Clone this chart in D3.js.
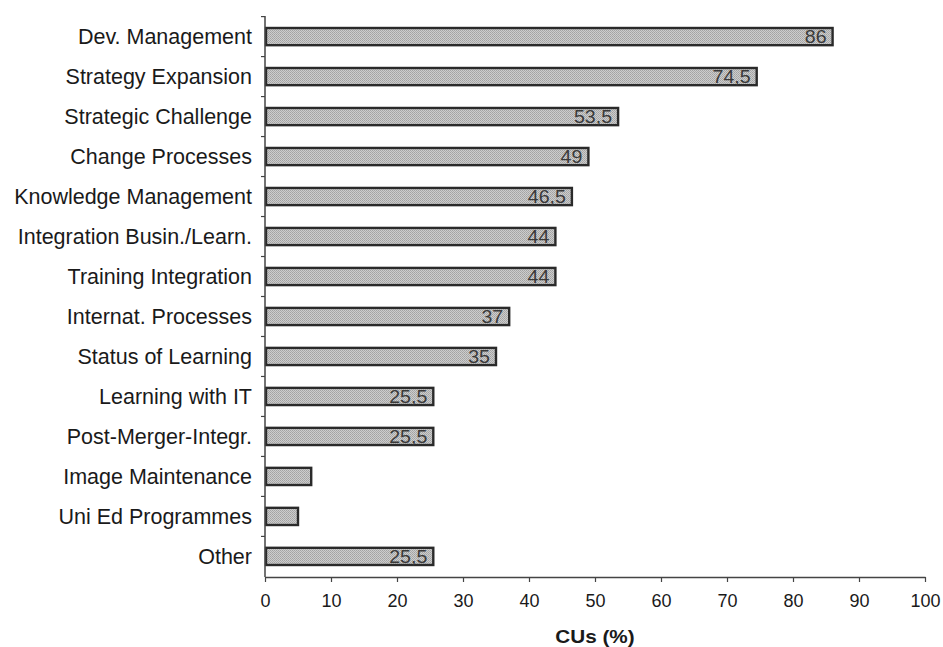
<!DOCTYPE html>
<html>
<head>
<meta charset="utf-8">
<script src="https://cdn.jsdelivr.net/npm/d3@7"></script>
<style>
  body { margin: 0; background: #fff; }
  svg { display: block; font-family: "Liberation Sans", Arial, sans-serif; }
</style>
</head>
<body>
<svg id="chart" width="943" height="647"></svg>
<script>
// Share of corporate universities (%) by topic
const categories = [
  "Dev. Management", "Strategy Expansion", "Strategic Challenge", "Change Processes",
  "Knowledge Management", "Integration Busin./Learn.", "Training Integration",
  "Internat. Processes", "Status of Learning", "Learning with IT",
  "Post-Merger-Integr.", "Image Maintenance", "Uni Ed Programmes", "Other"
];
const values = [86, 74.5, 53.5, 49, 46.5, 44, 44, 37, 35, 25.5, 25.5, 7, 5, 25.5];
const valueLabels = ["86", "74,5", "53,5", "49", "46,5", "44", "44", "37", "35", "25,5", "25,5", "", "", "25,5"];
const xTicks = [0, 10, 20, 30, 40, 50, 60, 70, 80, 90, 100];
const xTitle = "CUs (%)";

const svg = d3.select("#chart");
const margin = { left: 265, right: 18, top: 16, bottom: 70 };
const width = 943, height = 647;

const x = d3.scaleLinear().domain([0, 100]).range([margin.left, width - margin.right]);
const y = d3.scaleBand().domain(categories).range([margin.top, height - margin.bottom]).paddingInner(0.57).paddingOuter(0.3);

// stippled grey fill for bars
const defs = svg.append("defs");
const pat = defs.append("pattern").attr("id", "stipple").attr("width", 2).attr("height", 2)
  .attr("patternUnits", "userSpaceOnUse");
pat.append("rect").attr("width", 2).attr("height", 2).attr("fill", "#cdcdcd");
pat.append("rect").attr("width", 1).attr("height", 1).attr("fill", "#a2a2a2");
pat.append("rect").attr("x", 1).attr("y", 1).attr("width", 1).attr("height", 1).attr("fill", "#ababab");

// bars
svg.append("g").selectAll("rect").data(values).join("rect")
  .attr("x", x(0) + 1)
  .attr("y", (d, i) => y(categories[i]))
  .attr("width", d => x(d) - x(0) - 1)
  .attr("height", y.bandwidth())
  .attr("fill", "url(#stipple)")
  .attr("stroke", "#2a2a2a")
  .attr("stroke-width", 2.4);

// value labels at bar ends, slightly widened
svg.append("g").selectAll("text").data(values).join("text")
  .attr("transform", (d, i) => `translate(${x(d) - 6},${y(categories[i]) + y.bandwidth() / 2}) scale(1.12,1)`)
  .attr("dy", "0.37em")
  .attr("text-anchor", "end")
  .attr("font-size", 17.5)
  .attr("fill", "#3a3a3a")
  .text((d, i) => valueLabels[i]);

// y axis with ticks between categories
const yAxisG = svg.append("g");
yAxisG.append("line")
  .attr("x1", x(0)).attr("x2", x(0))
  .attr("y1", margin.top).attr("y2", height - margin.bottom)
  .attr("stroke", "#444").attr("stroke-width", 1.5);
const step = y.step();
const bounds = d3.range(categories.length).map(i => y(categories[i]) - (step - y.bandwidth()) / 2);
yAxisG.selectAll("line.tk").data(bounds).join("line").attr("class", "tk")
  .attr("x1", x(0) - 4).attr("x2", x(0))
  .attr("y1", d => d).attr("y2", d => d)
  .attr("stroke", "#444").attr("stroke-width", 1.2);
yAxisG.selectAll("text").data(categories).join("text")
  .attr("x", x(0) - 13)
  .attr("y", d => y(d) + y.bandwidth() / 2)
  .attr("dy", "0.36em")
  .attr("text-anchor", "end")
  .attr("font-size", 21.5)
  .attr("fill", "#1a1a1a")
  .text(d => d);

// x axis
const xAxis = d3.axisBottom(x).tickValues(xTicks).tickSize(5).tickSizeOuter(0).tickFormat(d3.format("d"));
const xg = svg.append("g").attr("transform", `translate(0,${height - margin.bottom})`).call(xAxis);
xg.select(".domain").attr("stroke", "#444").attr("stroke-width", 1.5);
xg.selectAll(".tick line").attr("stroke", "#444").attr("stroke-width", 1.2);
xg.selectAll(".tick text").attr("font-size", 18).attr("fill", "#1a1a1a").attr("y", 17).attr("dy", "0.71em")
  .attr("font-family", "\"Liberation Sans\", Arial, sans-serif");

// axis title, slightly widened
const tx = (x(0) + x(100)) / 2;
svg.append("text")
  .attr("transform", `translate(${tx},643) scale(1.15,1)`)
  .attr("text-anchor", "middle")
  .attr("font-size", 18)
  .attr("font-weight", "bold")
  .attr("fill", "#1a1a1a")
  .text(xTitle);
</script>
</body>
</html>
